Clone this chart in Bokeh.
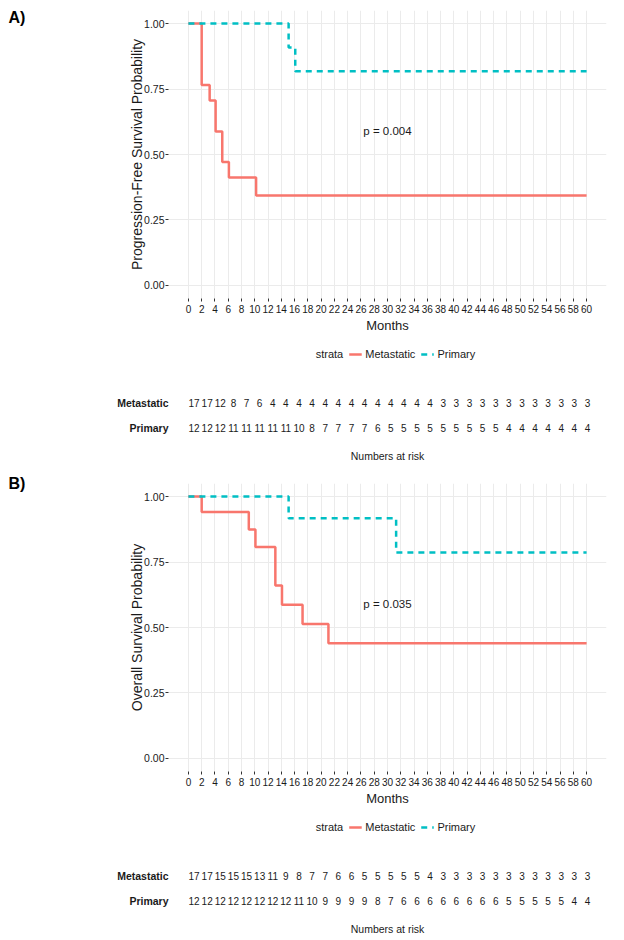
from bokeh.plotting import figure
from bokeh.layouts import column
from bokeh.models import (Range1d, FixedTicker, NumeralTickFormatter, Legend, LegendItem,
                          Label, ColumnDataSource)
from bokeh.embed import file_html
from bokeh.resources import INLINE
from bokeh.core.properties import value

# ---------------- data ----------------
months = list(range(0, 61, 2))
strata = ["Metastatic", "Primary"]

# A) progression-free survival: step times (months) and survival probabilities
pfs_met_time = [0, 2.0, 3.2, 4.1, 5.1, 6.1, 10.2, 60]
pfs_met_surv = [1.0, 0.765, 0.706, 0.588, 0.471, 0.412, 0.343, 0.343]
pfs_pri_time = [0, 15.1, 16.1, 60]
pfs_pri_surv = [1.0, 0.909, 0.818, 0.818]
pfs_pval = "p = 0.004"
pfs_risk_met = [17, 17, 12, 8, 7, 6, 4, 4, 4, 4, 4, 4, 4, 4, 4, 4, 4, 4, 4,
                3, 3, 3, 3, 3, 3, 3, 3, 3, 3, 3, 3]
pfs_risk_pri = [12, 12, 12, 11, 11, 11, 11, 11, 10, 8, 7, 7, 7, 7, 6, 5, 5, 5, 5, 5,
                5, 5, 5, 5, 4, 4, 4, 4, 4, 4, 4]

# B) overall survival
os_met_time = [0, 2.0, 9.1, 10.1, 13.1, 14.1, 17.2, 21.1, 60]
os_met_surv = [1.0, 0.941, 0.874, 0.807, 0.660, 0.587, 0.513, 0.440, 0.440]
os_pri_time = [0, 15.1, 31.3, 60]
os_pri_surv = [1.0, 0.917, 0.786, 0.786]
os_pval = "p = 0.035"
os_risk_met = [17, 17, 15, 15, 15, 13, 11, 9, 8, 7, 7, 6, 6, 5, 5, 5, 5, 5, 4,
               3, 3, 3, 3, 3, 3, 3, 3, 3, 3, 3, 3]
os_risk_pri = [12, 12, 12, 12, 12, 12, 12, 12, 11, 10, 9, 9, 9, 9, 8, 7, 6, 6, 6, 6,
               6, 6, 6, 6, 5, 5, 5, 5, 5, 4, 4]

RED = "#F8766D"
TEAL = "#00BFC4"
SANS = "Liberation Sans"
TXT = "#1a1a1a"
DASH = "6 5"
NAN = float("nan")


def km_fig(met_t, met_s, pri_t, pri_s, pval, ylabel, tag, tag_standoff, top_border):
    p = figure(width=624, height=top_border + 288 + 40,
               x_range=Range1d(-3, 63), y_range=Range1d(-0.05, 1.05),
               output_backend="svg", toolbar_location=None,
               min_border_left=168, min_border_right=18,
               min_border_top=top_border, min_border_bottom=40)
    p.outline_line_color = None
    p.background_fill_color = "white"
    p.border_fill_color = "white"

    # panel tag ("A)" / "B)") as the plot title, pulled to the left edge
    p.title.text = tag
    p.title.align = "left"
    p.title.offset = -160
    p.title.vertical_align = "bottom"
    p.title.text_font = SANS
    p.title.text_font_style = "bold"
    p.title.text_font_size = "16px"
    p.title.text_color = "black"
    try:
        p.title.standoff = tag_standoff
    except ValueError:
        p.title.standoff = 0

    p.xaxis.ticker = FixedTicker(ticks=months)
    p.yaxis.ticker = FixedTicker(ticks=[0, 0.25, 0.5, 0.75, 1.0])
    p.yaxis.formatter = NumeralTickFormatter(format="0.00")
    for ax in (p.xaxis[0], p.yaxis[0]):
        ax.axis_line_color = None
        ax.major_tick_line_color = "#333333"
        ax.major_tick_out = 3
        ax.major_tick_in = 0
        ax.minor_tick_line_color = None
        ax.major_label_text_font = SANS
        ax.major_label_text_font_size = "10.5px"
        ax.major_label_text_color = TXT
        ax.axis_label_text_font_style = "normal"
        ax.axis_label_text_color = TXT
    p.xaxis.major_label_text_font_size = "10px"
    p.xaxis.major_label_standoff = 3
    p.yaxis.major_label_standoff = 1
    p.xaxis.axis_label = "Months"
    p.xaxis.axis_label_text_font = SANS
    p.xaxis.axis_label_text_font_size = "13px"
    p.xaxis.axis_label_standoff = 2
    p.yaxis.axis_label = ylabel
    p.yaxis.axis_label_text_font = SANS
    p.yaxis.axis_label_text_font_size = "14px"
    try:
        p.yaxis.axis_label_standoff = -4
    except ValueError:
        p.yaxis.axis_label_standoff = 0

    p.grid.grid_line_color = "#EBEBEB"
    p.grid.grid_line_width = 1

    p.step(met_t, met_s, mode="after", line_color=RED, line_width=2.5)
    p.step(pri_t, pri_s, mode="after", line_color=TEAL, line_width=2.5, line_dash=DASH)

    p.add_layout(Label(x=30, y=0.59, text=pval, text_align="center",
                       text_baseline="middle", text_font=SANS,
                       text_font_size="11.5px", text_color=TXT))
    return p


def risk_fig(met, pri, top_border):
    # rows: Metastatic at y=1, Primary at y=0; the strata key sits at the top of the frame
    r = figure(width=624, height=top_border + 102 + 24,
               x_range=Range1d(-3.9, 62.9), y_range=Range1d(-0.5, 3.58),
               output_backend="svg", toolbar_location=None,
               min_border_left=168, min_border_right=18,
               min_border_top=top_border, min_border_bottom=24)
    r.outline_line_color = None
    r.grid.visible = False
    row_pos = {strata[0]: 1, strata[1]: 0}
    src = ColumnDataSource(dict(x=months + months,
                                y=[row_pos[strata[0]]] * len(met) + [row_pos[strata[1]]] * len(pri),
                                t=[str(v) for v in met + pri]))
    r.text(x="x", y="y", text="t", source=src, text_align="center",
           text_baseline="middle", text_font=value(SANS), text_font_size="10px",
           text_color=TXT)
    ya = r.yaxis[0]
    ya.ticker = FixedTicker(ticks=[row_pos[s] for s in strata])
    ya.major_label_overrides = {row_pos[s]: s for s in strata}
    ya.axis_line_color = None
    ya.major_tick_line_color = None
    ya.minor_tick_line_color = None
    ya.major_tick_out = 0
    ya.major_label_standoff = 0
    ya.major_label_text_font = SANS
    ya.major_label_text_font_size = "10.5px"
    ya.major_label_text_font_style = "bold"
    ya.major_label_text_color = TXT
    xa = r.xaxis[0]
    xa.ticker = FixedTicker(ticks=[])
    xa.axis_line_color = None
    xa.major_tick_line_color = None
    xa.major_tick_out = 0
    xa.minor_tick_line_color = None
    xa.major_label_text_font_size = "0px"
    xa.axis_label = "Numbers at risk"
    xa.axis_label_text_font = SANS
    xa.axis_label_text_font_size = "10.5px"
    xa.axis_label_text_font_style = "normal"
    xa.axis_label_text_color = TXT
    xa.axis_label_standoff = 9

    # key-only renderers (a single NaN point: nothing is drawn in the frame)
    k0 = r.line(x=[NAN], y=[NAN], line_alpha=0)
    k1 = r.line(x=[NAN], y=[NAN], line_color=RED, line_width=2.5)
    k2 = r.line(x=[NAN], y=[NAN], line_color=TEAL, line_width=2.5, line_dash=DASH)
    legend = Legend(items=[LegendItem(label="strata", renderers=[k0]),
                           LegendItem(label=strata[0], renderers=[k1]),
                           LegendItem(label=strata[1], renderers=[k2])],
                    orientation="horizontal", location="top_center")
    legend.label_text_font = SANS
    legend.label_text_font_size = "11px"
    legend.label_text_color = TXT
    legend.label_standoff = 4
    legend.glyph_width = 13
    legend.glyph_height = 16
    legend.spacing = 5
    legend.padding = 6
    legend.margin = 8
    legend.border_line_color = None
    legend.background_fill_alpha = 0
    r.add_layout(legend)
    return r


pA = km_fig(pfs_met_time, pfs_met_surv, pfs_pri_time, pfs_pri_surv, pfs_pval,
            "Progression-Free Survival Probability", "A)", -31, 10)
rA = risk_fig(pfs_risk_met, pfs_risk_pri, 0)
pB = km_fig(os_met_time, os_met_surv, os_pri_time, os_pri_surv, os_pval,
            "Overall Survival Probability", "B)", -16, 19)
rB = risk_fig(os_risk_met, os_risk_pri, 0)

layout = column(pA, rA, pB, rB, spacing=0)
open("out.html", "w").write(file_html(layout, INLINE))
